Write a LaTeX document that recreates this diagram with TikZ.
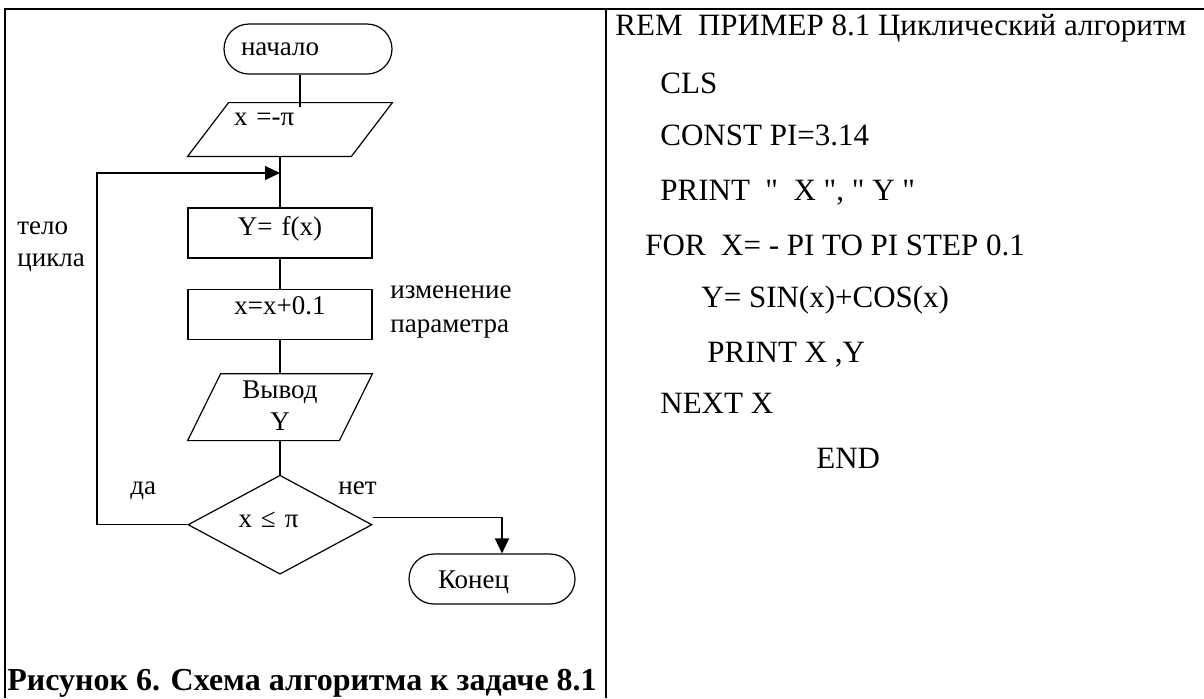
\documentclass[tikz,border=0pt]{standalone}
\usepackage{fontspec}
\setmainfont{Liberation Serif}[Ligatures=TeXOff]
\usetikzlibrary{arrows.meta, positioning, shapes.geometric}

\begin{document}
\begin{tikzpicture}[x=0.5pt, y=-0.5pt,
    font=\fontsize{13.5}{16}\selectfont,
    flow/.style={line width=0.6pt},
    arrow/.style={flow, -{Triangle[length=7.5pt, width=7pt]}},
    term/.style={rectangle, rounded corners=12.5pt, draw, flow, minimum height=25pt,
        inner sep=0pt, align=left},
    block/.style={rectangle, draw, flow, minimum width=92pt, minimum height=25pt,
        inner sep=0pt, text width=80pt, align=center},
    io/.style={rectangle, inner sep=0pt},
    cond/.style={diamond, draw, flow, aspect=1.86, minimum width=92pt, minimum height=49.5pt,
        inner sep=0pt, text width=41.5pt, align=left},
    note/.style={inner sep=0pt, anchor=base west, align=left},
    code/.style={inner sep=0pt, anchor=base west, font=\fontsize{15.5}{18}\selectfont},
    tableline/.style={line width=1pt}]

    \useasboundingbox (0,0) rectangle (1204,698);

    % table
    \draw[tableline] (5,698) -- (5,8.5) -- (1204,8.5);
    \draw[tableline] (606,8.5) -- (606,698);

    % flowchart
    \node[term, minimum width=84pt, inner xsep=8.5pt, text width=67pt,
        text height=6pt, text depth=0pt] (start) at (308,49) {начало};
    \node[io, below=14pt of start, xshift=-9pt, minimum width=102pt, minimum height=26.5pt,
        inner xsep=23pt, text width=56pt, align=left, text height=0pt, text depth=4.5pt] (inx) {x =-π};
    \node[block, below=25.5pt of inx, xshift=-5pt, text height=2pt, text depth=0pt] (body) {Y= f(x)};
    \node[block, below=15pt of body, text height=0pt, text depth=0pt] (incr) {x=x+0.1};
    \node[io, below=17pt of incr, minimum width=92pt, minimum height=33pt, text width=80pt,
        align=center, text height=0pt, text depth=9pt] (outy) {Вывод\\Y};
    \node[cond, below=17pt of outy, text height=2.5pt, text depth=0pt] (check) {x ≤ π};
    \node[term, minimum width=83pt, inner xsep=14.5pt, text width=54pt,
        text height=9pt, text depth=0pt] (stop) at (492,579) {Конец};

    \foreach \n/\s in {inx/20.5pt, outy/16.5pt}
        \draw[flow] ([xshift=\s]\n.north west) -- (\n.north east)
            -- ([xshift=-\s]\n.south east) -- (\n.south west) -- cycle;

    \draw[flow] ([xshift=-4pt]start.south) -- ([xshift=5pt, yshift=-2pt]inx.north);
    \draw[flow] (inx.south -| body.north) -- (body.north);
    \draw[flow] (body) -- (incr);
    \draw[flow] (incr.south) -- (outy.north);
    \draw[flow] (outy.south) -- (check.north);

    \coordinate (back) at (97,173);
    \draw[arrow] (check.west) -| (back) -- (back -| body.north);
    \draw[arrow] ([yshift=3.5pt]check.east) -| ([xshift=5pt]stop.north);

    \node[note, text width=45pt] (bodylbl) at (17,234) {тело\\цикла};
    \node[note, text width=70pt, font=\fontsize{13.5}{17}\selectfont] (steplbl) at (390,298) {изменение\\параметра};
    \node[note] (yes) at (130,494) {да};
    \node[note] (no) at (338,494) {нет};

    \node[note, font=\bfseries\fontsize{16}{19}\selectfont] (caption) at (7,690)
        {Рисунок 6. Схема алгоритма к задаче 8.1};

    % program text
    \foreach \xx/\yy/\txt [count=\i] in {
        615/35/{REM\ \ ПРИМЕР 8.1 Циклический алгоритм},
        660/93/{CLS},
        660/145/{CONST PI=3.14},
        660/200/{PRINT\ \ "\ \ X\ ",\ "\ Y\ "},
        645/255/{FOR\ \ X= - PI TO PI STEP 0.1},
        701/307/{Y= SIN(x)+COS(x)},
        707/362/{PRINT X ,Y},
        660/413/{NEXT X},
        816/468/{END}}
        \node[code] (line\i) at (\xx,\yy) {\txt};
\end{tikzpicture}
\end{document}
